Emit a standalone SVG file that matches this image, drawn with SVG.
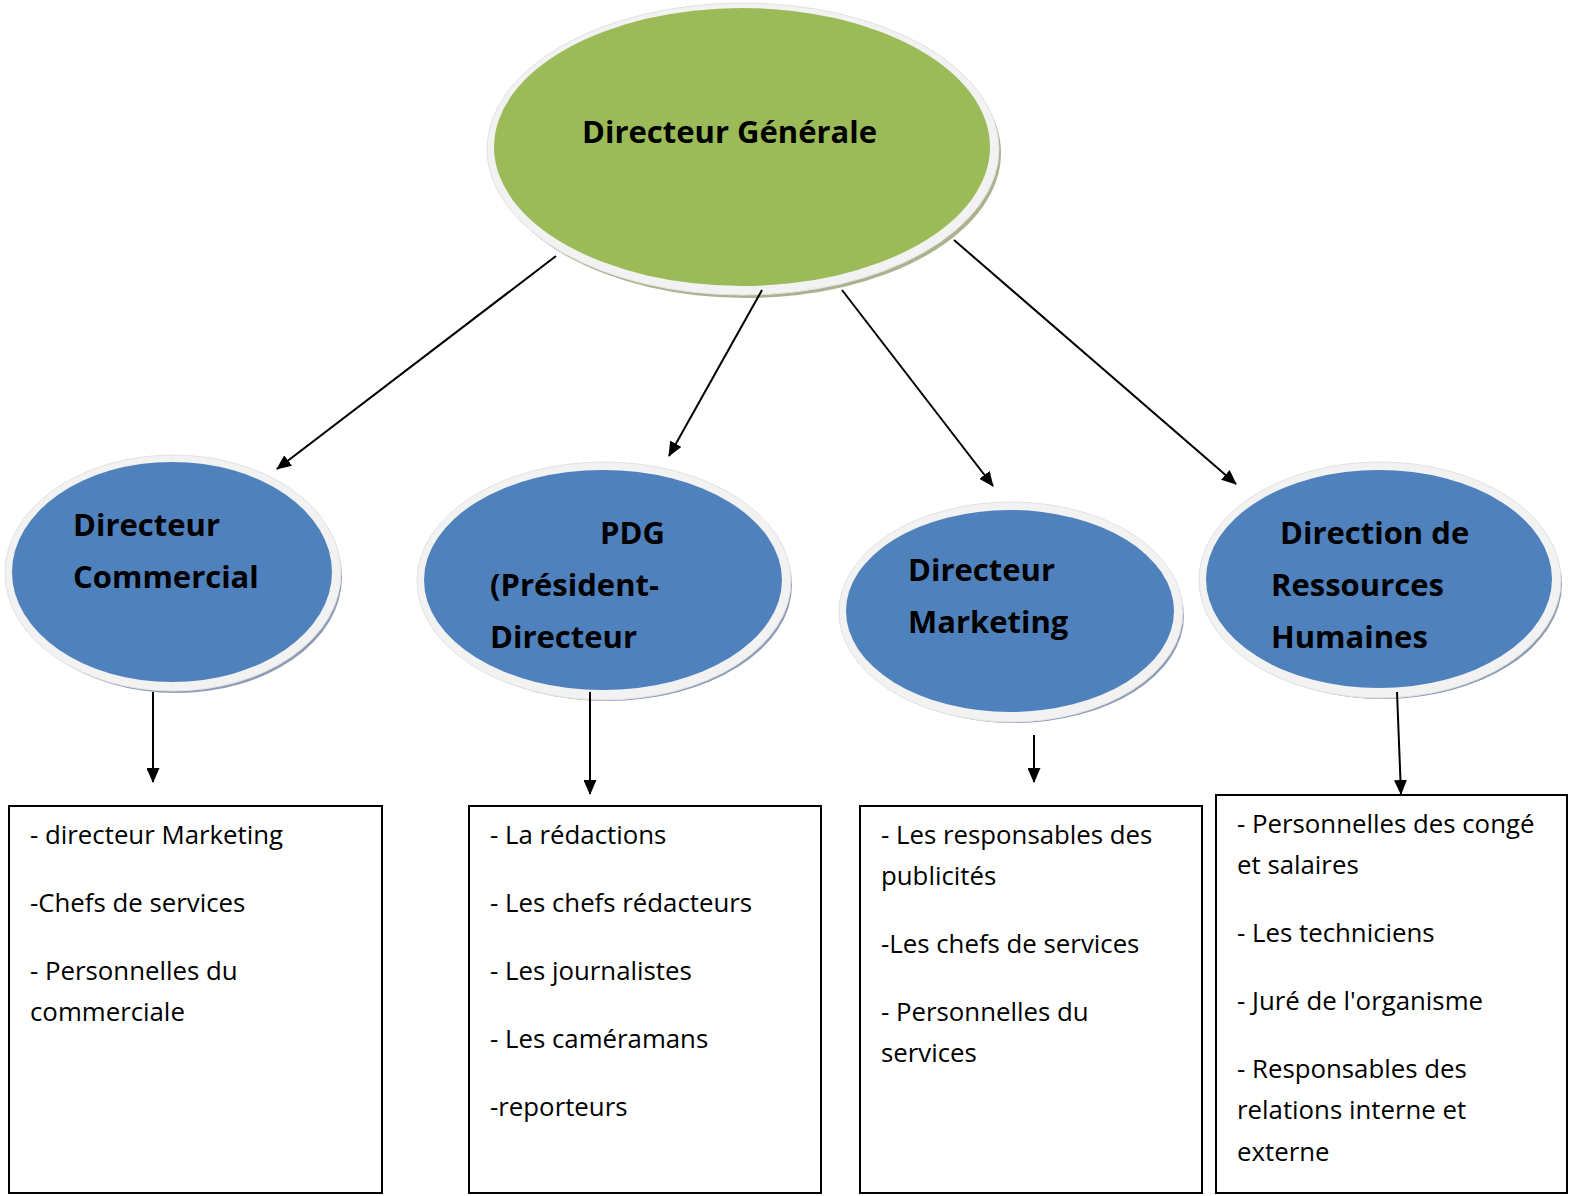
<svg xmlns="http://www.w3.org/2000/svg" width="1569" height="1196" viewBox="0 0 1569 1196">
<style>
.rim{fill:#f2f2f2;stroke:#e2e2e2;stroke-width:1}
.shb{fill:#8e9cb5}
.shg{fill:#aab38f}
.blue{fill:#4f81bd}
.green{fill:#9bbb59}
.lbl{font-family:"Open Sans",Lato,sans-serif;font-weight:bold;font-size:31px;fill:#000}
.box{fill:#fff;stroke:#000;stroke-width:2}
.txt{font-family:"Open Sans",Lato,sans-serif;font-size:25.8px;fill:#000}
.con{stroke:#000;stroke-width:2;fill:none;marker-end:url(#ah)}
</style>
<defs>
<marker id="ah" markerWidth="15" markerHeight="13" refX="14" refY="6.5" orient="auto" markerUnits="userSpaceOnUse">
<path d="M0,0 L15,6.5 L0,13 Z" fill="#000"/>
</marker>
</defs>
<rect width="1569" height="1196" fill="#fff"/>

<g id="node-dg">
<ellipse class="shg" cx="746" cy="153" rx="255" ry="145"/>
<ellipse class="rim" cx="743" cy="149" rx="256" ry="146"/>
<ellipse class="green" cx="742" cy="147" rx="248" ry="139"/>
<text class="lbl" x="582" y="143">Directeur Générale</text>
</g>

<g id="node-commercial">
<ellipse class="shb" cx="176" cy="577" rx="166" ry="116"/>
<ellipse class="rim" cx="173" cy="573" rx="168" ry="118"/>
<ellipse class="blue" cx="172" cy="572" rx="160" ry="110"/>
<text class="lbl" x="73" y="536">Directeur</text>
<text class="lbl" x="73" y="588">Commercial</text>
</g>

<g id="node-pdg">
<ellipse class="shb" cx="607" cy="585" rx="185" ry="116"/>
<ellipse class="rim" cx="604" cy="581" rx="187" ry="119"/>
<ellipse class="blue" cx="603" cy="580" rx="179" ry="110"/>
<text class="lbl" x="600" y="544">PDG</text>
<text class="lbl" x="490" y="596">(Président-</text>
<text class="lbl" x="490" y="648">Directeur</text>
</g>

<g id="node-marketing">
<ellipse class="shb" cx="1014" cy="616" rx="170" ry="107"/>
<ellipse class="rim" cx="1011" cy="612" rx="172" ry="110"/>
<ellipse class="blue" cx="1010" cy="611" rx="164" ry="101"/>
<text class="lbl" x="908" y="581">Directeur</text>
<text class="lbl" x="908" y="633">Marketing</text>
</g>

<g id="node-rh">
<ellipse class="shb" cx="1383" cy="584" rx="179" ry="115"/>
<ellipse class="rim" cx="1380" cy="580" rx="181" ry="118"/>
<ellipse class="blue" cx="1379" cy="579" rx="173" ry="109"/>
<text class="lbl" x="1280" y="544">Direction de</text>
<text class="lbl" x="1271" y="596">Ressources</text>
<text class="lbl" x="1271" y="648">Humaines</text>
</g>

<g id="box-commercial">
<rect class="box" x="9" y="806" width="373" height="387"/>
<text class="txt" x="30" y="844">- directeur Marketing</text>
<text class="txt" x="30" y="912">-Chefs de services</text>
<text class="txt" x="30" y="980">- Personnelles du</text>
<text class="txt" x="30" y="1021">commerciale</text>
</g>

<g id="box-pdg">
<rect class="box" x="469" y="806" width="352" height="387"/>
<text class="txt" x="490" y="844">- La rédactions</text>
<text class="txt" x="490" y="912">- Les chefs rédacteurs</text>
<text class="txt" x="490" y="980">- Les journalistes</text>
<text class="txt" x="490" y="1048">- Les caméramans</text>
<text class="txt" x="490" y="1116">-reporteurs</text>
</g>

<g id="box-marketing">
<rect class="box" x="860" y="806" width="342" height="387"/>
<text class="txt" x="881" y="844">- Les responsables des</text>
<text class="txt" x="881" y="885">publicités</text>
<text class="txt" x="881" y="953">-Les chefs de services</text>
<text class="txt" x="881" y="1021">- Personnelles du</text>
<text class="txt" x="881" y="1062">services</text>
</g>

<g id="box-rh">
<rect class="box" x="1216" y="795" width="351" height="398"/>
<text class="txt" x="1237" y="833">- Personnelles des congé</text>
<text class="txt" x="1237" y="874">et salaires</text>
<text class="txt" x="1237" y="942">- Les techniciens</text>
<text class="txt" x="1237" y="1010">- Juré de l'organisme</text>
<text class="txt" x="1237" y="1078">- Responsables des</text>
<text class="txt" x="1237" y="1119">relations interne et</text>
<text class="txt" x="1237" y="1161">externe</text>
</g>

<g id="connectors">
<line class="con" x1="556" y1="256" x2="277" y2="469"/>
<line class="con" x1="762" y1="290" x2="669" y2="456"/>
<line class="con" x1="842" y1="290" x2="993" y2="486"/>
<line class="con" x1="954" y1="240" x2="1236" y2="484"/>
<line class="con" x1="153" y1="692" x2="153" y2="782"/>
<line class="con" x1="590" y1="692" x2="590" y2="794"/>
<line class="con" x1="1034" y1="735" x2="1034" y2="782"/>
<line class="con" x1="1397" y1="692" x2="1401" y2="794"/>
</g>
</svg>
